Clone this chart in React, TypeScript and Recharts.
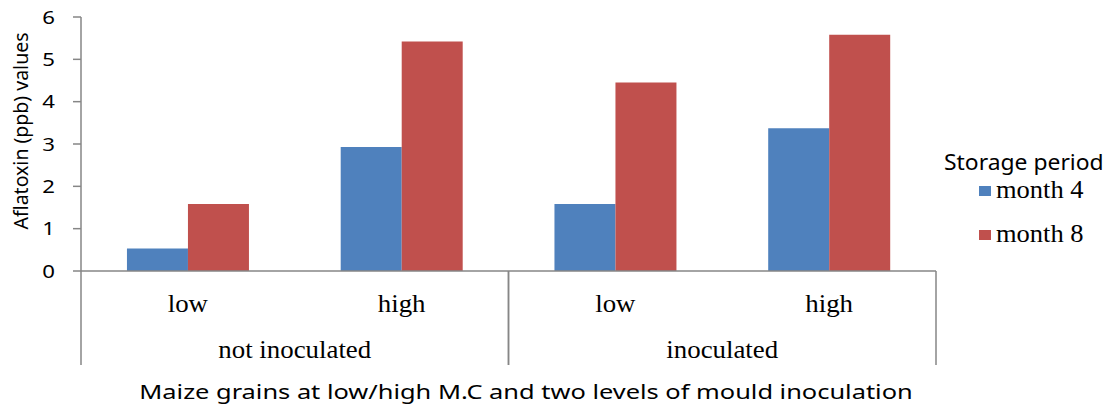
import { BarChart, Bar, XAxis, YAxis } from 'recharts';

const levels = ['low', 'high', 'low', 'high'];
const groups = ['not inoculated', 'not inoculated', 'inoculated', 'inoculated'];
const month4 = [0.53, 2.93, 1.58, 3.37];
const month8 = [1.58, 5.42, 4.45, 5.58];
const yTicks = [0, 1, 2, 3, 4, 5, 6];

const seriesNames = ['month 4', 'month 8'];
const seriesColors = ['#4F81BD', '#C0504D'];

const data = levels.map((level, i) => ({
  level,
  group: groups[i],
  m4: month4[i],
  m8: month8[i],
}));

const W = 1108;
const H = 412;
const PLOT_LEFT = 81;
const PLOT_RIGHT = 936;
const PLOT_TOP = 17;
const PLOT_BOTTOM = 271;
const SUB_H = 47;
const GROUP_H = H - PLOT_BOTTOM - SUB_H;
const AXIS = '#868686';
const SANS = '"Noto Sans", "Open Sans", sans-serif';
const SERIF = '"Liberation Serif", "DejaVu Serif", serif';
// the source picture is stretched sideways a little
const STRETCH = 1.075;

const uniqueGroups = Array.from(new Set(groups));
const groupHalf = (PLOT_RIGHT - PLOT_LEFT) / uniqueGroups.length / 2;

const SerifLabel = ({ x, y, value }: { x: number; y: number; value: string }) => (
  <text
    transform={`translate(${x}, ${y}) scale(${STRETCH}, 1)`}
    textAnchor="middle"
    fontFamily={SERIF}
    fontSize={25}
    fill="#000"
  >
    {value}
  </text>
);

const LevelTick = ({ x, y, payload }: any) => <SerifLabel x={x} y={y + 41} value={payload.value} />;

const GroupTick = ({ x, y, payload }: any) => (
  <g>
    <line x1={x - groupHalf} x2={x - groupHalf} y1={PLOT_BOTTOM} y2={365} stroke={AXIS} strokeWidth={1.5} />
    <line x1={x + groupHalf} x2={x + groupHalf} y1={PLOT_BOTTOM} y2={365} stroke={AXIS} strokeWidth={1.5} />
    <SerifLabel x={x} y={y + 40} value={payload.value} />
  </g>
);

const ValueTick = ({ x, y, payload }: any) => (
  <text
    transform={`translate(${x - 2}, ${y + 6.5}) scale(1.2, 1)`}
    textAnchor="end"
    fontFamily={SANS}
    fontSize={18.5}
    fill="#000"
  >
    {payload.value}
  </text>
);

const YTitle = () => (
  <text
    transform="translate(28, 131) rotate(-90)"
    textAnchor="middle"
    fontFamily={SANS}
    fontSize={19.5}
    fill="#000"
  >
    Aflatoxin (ppb) values
  </text>
);

const XTitle = () => (
  <text
    transform="translate(526, 399) scale(1.27, 1)"
    textAnchor="middle"
    fontFamily={SANS}
    fontSize={20}
    fill="#000"
  >
    Maize grains at low/high M.C and two levels of mould inoculation
  </text>
);

export default function App() {
  return (
    <div style={{ position: 'absolute', left: 0, top: 0, width: W, height: H, background: '#fff' }}>
      <BarChart
        width={W}
        height={H}
        data={data}
        margin={{ top: PLOT_TOP, right: W - PLOT_RIGHT, left: 0, bottom: 0 }}
        barCategoryGap="21.5%"
        barGap={0}
      >
        <YAxis
          width={PLOT_LEFT}
          domain={[0, 6]}
          ticks={yTicks}
          interval={0}
          axisLine={{ stroke: AXIS, strokeWidth: 1.5 }}
          tickLine={{ stroke: AXIS, strokeWidth: 1.5 }}
          tickSize={8}
          tickMargin={16}
          tick={<ValueTick />}
          label={YTitle}
        />
        <XAxis
          dataKey="level"
          height={SUB_H}
          interval={0}
          axisLine={{ stroke: AXIS, strokeWidth: 1.5 }}
          tickLine={false}
          tickSize={0}
          tickMargin={0}
          tick={<LevelTick />}
        />
        <XAxis
          xAxisId="group"
          dataKey="group"
          allowDuplicatedCategory={false}
          height={GROUP_H}
          interval={0}
          axisLine={false}
          tickLine={false}
          tickSize={0}
          tickMargin={0}
          tick={<GroupTick />}
          label={XTitle}
        />
        <Bar dataKey="m4" name={seriesNames[0]} fill={seriesColors[0]} isAnimationActive={false} />
        <Bar dataKey="m8" name={seriesNames[1]} fill={seriesColors[1]} isAnimationActive={false} />
      </BarChart>
      <svg width={W} height={H} style={{ position: 'absolute', left: 0, top: 0, pointerEvents: 'none' }}>
        <text transform="translate(944, 170) scale(1.09, 1)" fontFamily={SANS} fontSize={21} fill="#000">
          Storage period
        </text>
        {seriesNames.map((name, i) => (
          <g key={name}>
            <rect x={979} y={186 + i * 44} width={12} height={10} fill={seriesColors[i]} />
            <text
              transform={`translate(996, ${198 + i * 44}) scale(1.06, 1)`}
              fontFamily={SERIF}
              fontSize={25}
              fill="#000"
            >
              {name}
            </text>
          </g>
        ))}
      </svg>
    </div>
  );
}
